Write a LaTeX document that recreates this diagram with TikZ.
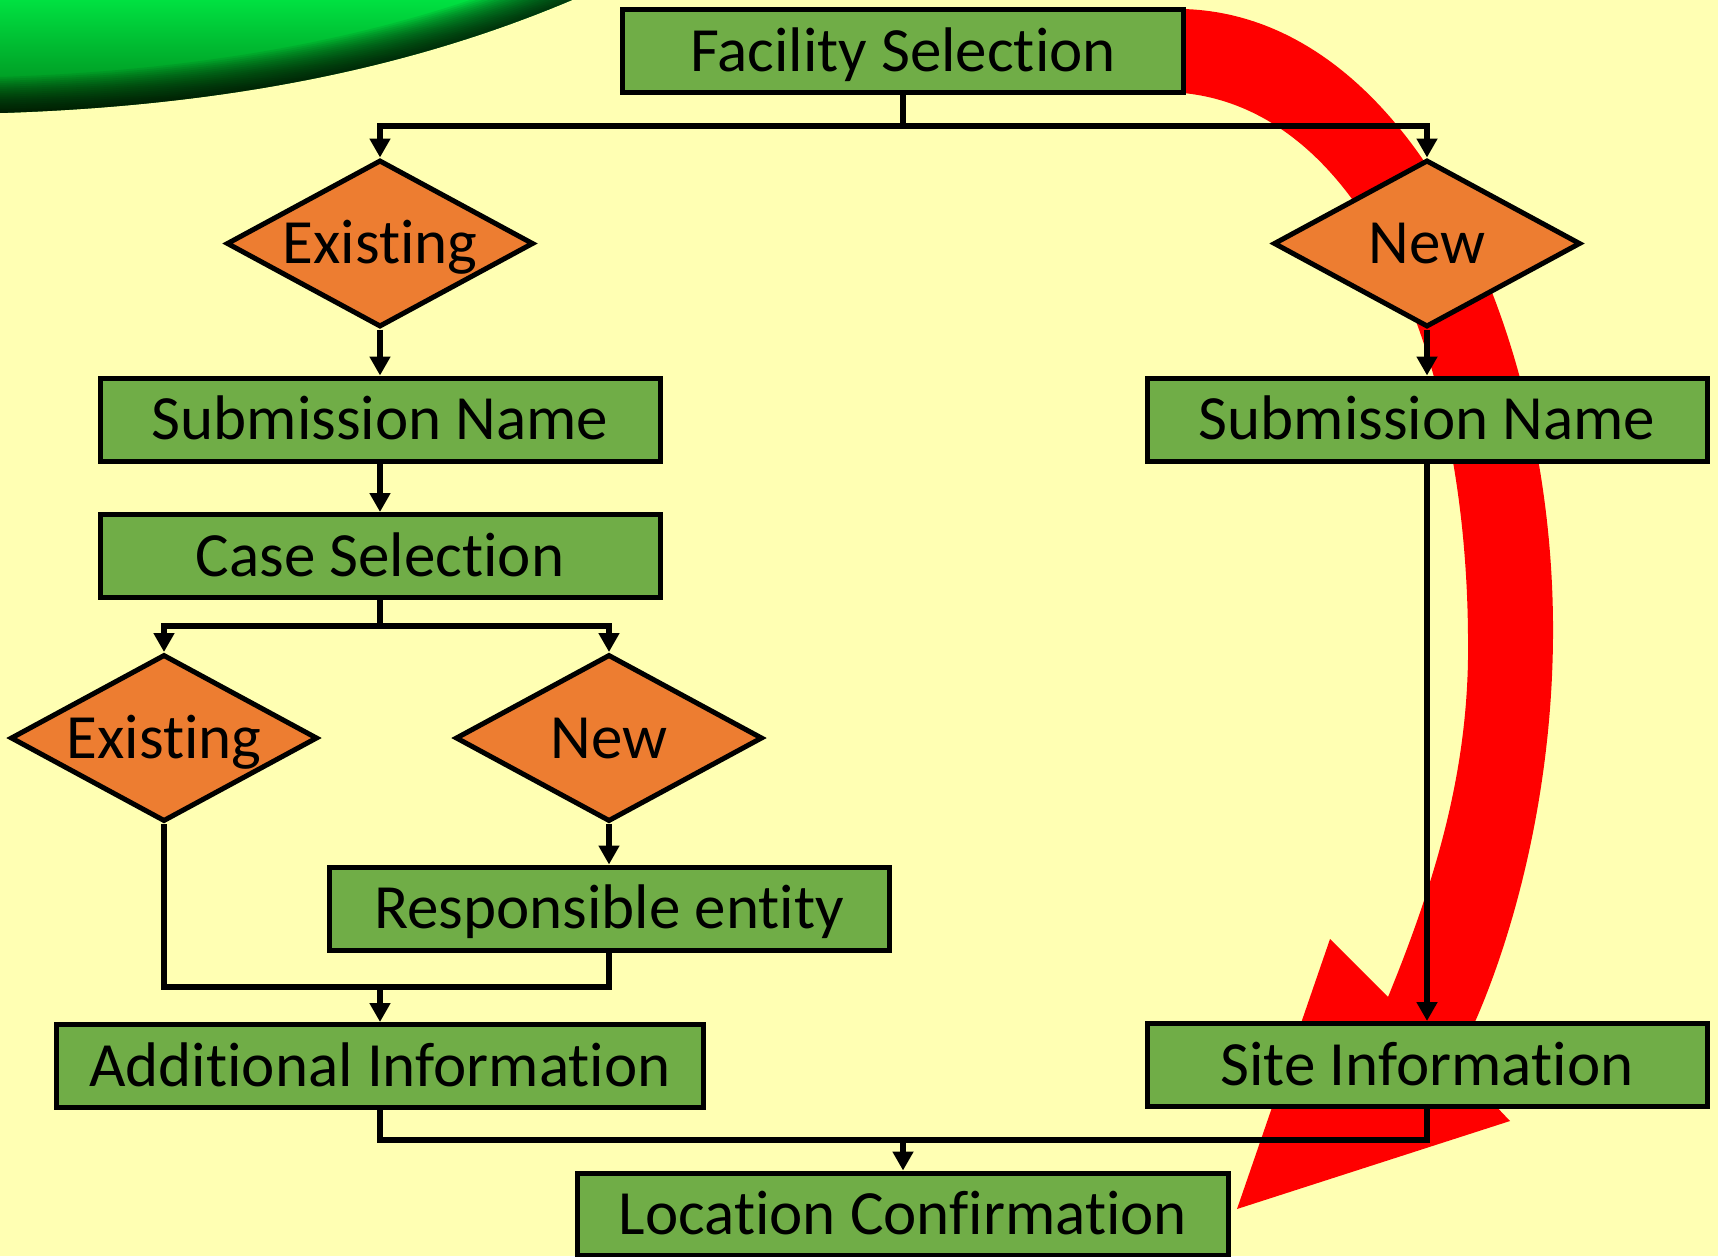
\documentclass[tikz,border=0pt]{standalone}
\usepackage{fontspec}
\setmainfont{Carlito}[Ligatures={NoCommon,NoRare,NoContextual}, Contextuals=NoAlternate]
\usetikzlibrary{shapes.geometric,arrows.meta,calc}
\definecolor{bg}{RGB}{255,255,179}
\definecolor{boxgreen}{RGB}{112,173,71}
\definecolor{dorange}{RGB}{237,125,49}
\definecolor{redarrow}{RGB}{255,0,0}
\definecolor{swtop}{RGB}{0,225,65}
\definecolor{swbot}{RGB}{0,130,25}
\begin{document}
\begin{tikzpicture}[x=1pt,y=-1pt,
  lbl/.style={font=\fontsize{63}{75}\selectfont, text height=42pt, text depth=2pt},
  box/.style={lbl, draw=black, line width=5pt, fill=boxgreen, minimum width=560pt, minimum height=83pt, inner sep=0pt},
  dia/.style={lbl, diamond, draw=black, line width=5pt, fill=dorange, aspect=1.84, minimum width=307pt, minimum height=167pt, inner sep=0pt},
  conn/.style={line width=6pt},
  arr/.style={conn, -{Triangle[width=20pt,length=19pt]}}]
\fill[bg] (0,0) rectangle (1718,1256);
\useasboundingbox (0,0) rectangle (1718,1256);
% green swoosh
\begin{scope}
  \clip (0,0) -- (572,0) .. controls (430,60) and (250,105) .. (0,113) -- cycle;
  \shade[top color=swtop, bottom color=swbot] (0,0) rectangle (572,113);
  \foreach \w in {72,68,...,4}
    \draw[black, opacity=0.065, line width=\w pt] (572,0) .. controls (430,60) and (250,105) .. (0,113);
\end{scope}
% red curved arrow
\fill[redarrow] (1183,9) .. controls (1410,15) and (1555,330) .. (1553,636)
  .. controls (1552,820) and (1500,980) .. (1455,1063)
  -- (1510,1121) -- (1237,1209) -- (1330,939) -- (1388,997)
  .. controls (1440,870) and (1470,760) .. (1468,636)
  .. controls (1466,350) and (1360,110) .. (1183,93) -- cycle;
% nodes
\node[box, minimum width=561pt] (fac) at (903,51) {Facility Selection};
\node[dia] (ex1) at (380,243.5) {Existing};
\node[dia] (new1) at (1427,243.5) {New};
\node[box] (subL) at (380,419.5) {Submission Name};
\node[box] (subR) at (1427,419.5) {Submission Name};
\node[box] (case) at (380,556) {Case Selection};
\node[dia] (ex2) at (164,738) {Existing};
\node[dia] (new2) at (609,738) {New};
\node[box] (resp) at (609,908.5) {Responsible entity};
\node[box, minimum width=647pt] (add) at (380,1066) {Additional Information};
\node[box] (site) at (1427,1065) {Site Information};
\node[box, minimum width=651pt, minimum height=82pt] (loc) at (903,1214) {Location Confirmation};
% junctions
\coordinate (j1) at (903,126);
\coordinate (j2) at (380,626);
\coordinate (j3) at (380,987);
\coordinate (j4) at (903,1140);
% connectors
\draw[conn] (fac.south) -- (j1);
\draw[arr] (j1) -| (ex1.north);
\draw[arr] (j1) -| (new1.north);
\draw[arr] (ex1.south) -- (subL.north);
\draw[arr] (new1.south) -- (subR.north);
\draw[arr] (subL.south) -- (case.north);
\draw[conn] (case.south) -- (j2);
\draw[arr] (j2) -| (ex2.north);
\draw[arr] (j2) -| (new2.north);
\draw[arr] (new2.south) -- (resp.north);
\draw[conn] (ex2.south) |- (j3) -| (resp.south);
\draw[arr] (j3) -- (add.north);
\draw[arr] (subR.south) -- (site.north);
\draw[conn] (add.south) |- (j4) -| (site.south);
\draw[arr] (j4) -- (loc.north);
\end{tikzpicture}
\end{document}
